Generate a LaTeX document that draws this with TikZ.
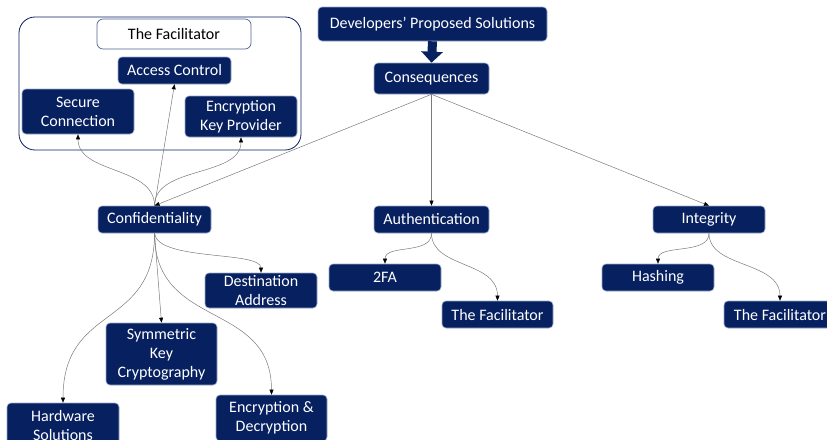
\documentclass[tikz,border=0pt]{standalone}
\usepackage{fontspec}
\setmainfont{Carlito}
\usetikzlibrary{arrows.meta}
\definecolor{navy}{HTML}{072060}
\definecolor{rim}{HTML}{9AAACB}
\definecolor{wire}{HTML}{7A7A7A}
\tikzset{
  box/.style={rectangle, rounded corners=4pt, fill=navy, draw=rim, line width=0.6pt,
    text=white, font=\fontsize{16}{19}\selectfont, align=center, inner sep=0pt},
  plainbox/.style={rectangle, rounded corners=6pt, fill=white, draw=navy!70, line width=0.7pt,
    text=black, font=\fontsize{16}{19}\selectfont, align=center, inner sep=0pt},
  link/.style={draw=wire, line width=0.5pt, -{Triangle[length=5pt,width=4pt,color=black]}},
  bigarrow/.style={draw=navy, line width=9pt, -{Triangle[length=11pt,width=21pt,color=navy]}}
}
\begin{document}
\begin{tikzpicture}[x=1pt,y=-1pt]
\useasboundingbox (0,0) rectangle (827,439);
\clip (0,0) rectangle (827,439);

% facilitator group frame
\draw[navy, line width=0.8pt, rounded corners=16pt] (19,17) rectangle (301,150);
\node[plainbox, minimum width=154pt, minimum height=30pt] (fac) at (174,34) {The Facilitator};
\node[box, minimum width=113pt, minimum height=27pt] (ac) at (174.5,70.5) {Access Control};
\node[box, minimum width=112pt, minimum height=45pt] (sc) at (78,111.5) {Secure\\Connection};
\node[box, minimum width=112pt, minimum height=41pt] (ekp) at (241,116.5) {Encryption\\Key Provider};

% top of the tree
\node[box, minimum width=229pt, minimum height=34pt] (dev) at (432.5,24) {Developers’ Proposed Solutions};
\node[box, minimum width=115pt, minimum height=31pt] (cons) at (431.5,78.5) {Consequences};

% three goals
\node[box, minimum width=113pt, minimum height=27pt] (conf) at (154.5,219.5) {Confidentiality};
\node[box, minimum width=115pt, minimum height=27pt] (auth) at (431.5,219.5) {Authentication};
\node[box, minimum width=112pt, minimum height=27pt] (integ) at (709,219.5) {Integrity};

% confidentiality measures
\node[box, minimum width=112pt, minimum height=35pt] (da) at (261,290.5) {Destination\\Address};
\node[box, minimum width=111pt, minimum height=62pt] (skc) at (161.5,354) {Symmetric\\Key\\Cryptography};
\node[box, minimum width=112pt, minimum height=44pt] (hs) at (63,425) {Hardware\\Solutions};
\node[box, minimum width=111pt, minimum height=46pt] (ed) at (271.5,418) {Encryption \&\\Decryption};

% authentication measures
\node[box, minimum width=112pt, minimum height=27pt] (twofa) at (385,277.5) {2FA};
\node[box, minimum width=111pt, minimum height=27pt] (afac) at (497.5,314.5) {The Facilitator};

% integrity measures
\node[box, minimum width=112pt, minimum height=27pt] (hash) at (658,277.5) {Hashing};
\node[box, minimum width=112pt, minimum height=27pt] (ifac) at (780,314.5) {The Facilitator};

% connectors
\draw[bigarrow] (dev.south) -- (cons.north);
\draw[link] (cons.south) -- (conf.north);
\draw[link] (cons.south) -- (auth.north);
\draw[link] (cons.south) -- (integ.north);

\draw[link] (conf.north) .. controls +(0,-40) and +(0,40) .. (sc.south);
\draw[link] (conf.north) -- (ac.south);
\draw[link] (conf.north) .. controls +(0,-40) and +(0,40) .. (ekp.south);

\draw[link] (conf.south) .. controls +(3,28) and +(0,-22) .. (da.north);
\draw[link] (conf.south) -- (skc.north);
\draw[link] (conf.south) .. controls +(0,97) and +(0,-100) .. (hs.north);
\draw[link] (conf.south) .. controls +(0,97) and +(0,-95) .. (ed.north);

\draw[link] (auth.south) .. controls +(0,22) and +(0,-20) .. (twofa.north);
\draw[link] (auth.south) .. controls +(0,35) and +(0,-40) .. (afac.north);

\draw[link] (integ.south) .. controls +(0,22) and +(0,-20) .. (hash.north);
\draw[link] (integ.south) .. controls +(0,35) and +(0,-40) .. (ifac.north);
\end{tikzpicture}
\end{document}
